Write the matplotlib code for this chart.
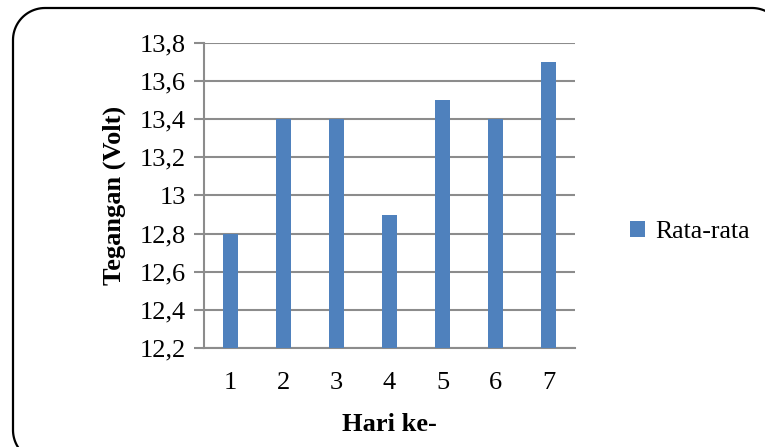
import matplotlib
matplotlib.use("Agg")
import numpy as np
import matplotlib.pyplot as plt
from matplotlib.lines import Line2D
from matplotlib.ticker import FuncFormatter, MultipleLocator

days = ["1", "2", "3", "4", "5", "6", "7"]
voltage = [12.8, 13.4, 13.4, 12.9, 13.5, 13.4, 13.7]
series_name = "Rata-rata"

plt.rcParams["font.family"] = ["Liberation Serif", "DejaVu Serif"]

W, H = 765, 447
fig = plt.figure(figsize=(W / 100, H / 100), dpi=100)


def frame_outline(left, top, right, bottom, r, n=24):
    """Visible part of a rounded chart border, pixel coords (top-left origin):
    bottom-left corner, left side, top-left corner, top side, top-right corner."""
    pts = []
    corners = [(left + r, bottom - r, 135, 180), (left + r, top + r, 180, 270),
               (right - r, top + r, 270, 330)]
    for cx, cy, a0, a1 in corners:
        for a in np.linspace(np.radians(a0), np.radians(a1), n):
            pts.append((cx + r * np.cos(a), cy + r * np.sin(a)))
    xs = [p[0] / W for p in pts]
    ys = [1 - p[1] / H for p in pts]
    return xs, ys


fx, fy = frame_outline(13, 8, 784, 462, 32)
fig.add_artist(Line2D(fx, fy, transform=fig.transFigure, color="black",
                      linewidth=1.6, solid_capstyle="butt"))

ax = fig.add_axes([204 / W, 1 - 348 / H, (575 - 204) / W, (348 - 43) / H])

x = list(range(len(days)))
ax.bar(x, [v - 12.2 for v in voltage], bottom=12.2, width=0.27,
       color="#4F81BD", label=series_name, zorder=3)

ax.set_xlim(-0.5, len(days) - 0.5)
ax.set_ylim(12.2, 13.8)
ax.yaxis.set_major_locator(MultipleLocator(0.2))
ax.yaxis.set_major_formatter(FuncFormatter(
    lambda v, p: ("%g" % round(v, 1)).replace(".", ",")))
ax.set_xticks(x)
ax.set_xticklabels(days)

grid_c = "#8C8C8C"
ax.grid(axis="y", color=grid_c, linewidth=1.5, zorder=0)
for s in ["top", "right"]:
    ax.spines[s].set_visible(False)
ax.spines["left"].set_color(grid_c)
ax.spines["left"].set_linewidth(1.5)
ax.spines["bottom"].set_color(grid_c)
ax.spines["bottom"].set_linewidth(1.5)
ax.tick_params(axis="y", length=7, width=1.5, color=grid_c, labelsize=19, pad=6)
ax.tick_params(axis="x", length=0, labelsize=19, pad=17)

ax.set_ylabel("Tegangan (Volt)", fontsize=19, fontweight="bold", labelpad=10)
ax.set_xlabel("Hari ke-", fontsize=19, fontweight="bold", labelpad=14)

ax.legend(loc="center left", bbox_to_anchor=(630 / W, 1 - 232 / H),
          bbox_transform=fig.transFigure, frameon=False, fontsize=18.5,
          borderpad=0, borderaxespad=0,
          handlelength=0.6, handleheight=0.6, handletextpad=0.4)

fig.savefig("out.png", dpi=100)
